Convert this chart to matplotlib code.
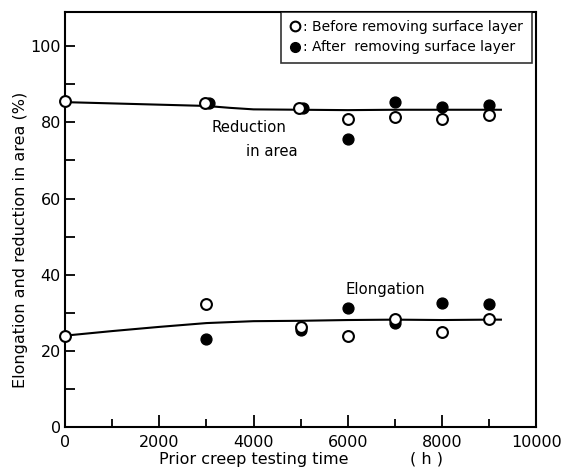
import matplotlib
matplotlib.use('Agg')
import matplotlib.pyplot as plt
from matplotlib.lines import Line2D
from matplotlib.ticker import MultipleLocator

# Prior creep testing time (h) of each specimen
times = [0, 3000, 5000, 6000, 7000, 8000, 9000]
times_after = [3000, 5000, 6000, 7000, 8000, 9000]

# Reduction in area (%)
ra_before = [85.5, 85.0, 83.8, 81.0, 81.5, 81.0, 82.0]
ra_after = [85.2, 83.8, 75.5, 85.3, 84.0, 84.5]

# Elongation (%)
el_before = [24.0, 32.3, 26.3, 24.0, 28.3, 25.0, 28.3]
el_after = [23.0, 25.5, 31.3, 27.3, 32.7, 32.3]

# Trend curves drawn through the data
ra_curve_t = [0, 3000, 3500, 4000, 5000, 6000, 7000, 8000, 9000, 9250]
ra_curve = [85.3, 84.3, 83.8, 83.4, 83.3, 83.2, 83.3, 83.3, 83.3, 83.3]
el_curve_t = [0, 1000, 2000, 3000, 4000, 5000, 6000, 7000, 8000, 9000, 9250]
el_curve = [24.0, 25.2, 26.3, 27.3, 27.8, 27.9, 28.1, 28.2, 28.1, 28.2, 28.2]

plt.rcParams['font.family'] = 'DejaVu Sans'
plt.rcParams['font.size'] = 11

fig = plt.figure(figsize=(5.63, 4.74), dpi=100)
ax = fig.add_axes([0.1155, 0.099, 0.837, 0.876])

ax.plot(ra_curve_t, ra_curve, color='black', lw=1.5, zorder=1)
ax.plot(el_curve_t, el_curve, color='black', lw=1.5, zorder=1)

ms = 7.8
# small offset at 3000 h / 5000 h where the two groups overlap
ra_after_t = [3050, 5050, 6000, 7000, 8000, 9000]
ax.plot(ra_after_t, ra_after, 'o', color='black', ms=ms, zorder=2)
ax.plot(times_after, el_after, 'o', color='black', ms=ms, zorder=2)
ra_before_t = [0, 2970, 4970, 6000, 7000, 8000, 9000]
ax.plot(ra_before_t, ra_before, 'o', mfc='white', mec='black', mew=1.5,
        ms=ms, zorder=3, clip_on=False)
ax.plot(times, el_before, 'o', mfc='white', mec='black', mew=1.5,
        ms=ms, zorder=3, clip_on=False)

ax.text(3100, 78.7, 'Reduction', ha='left', va='center', fontsize=10.7)
ax.text(3850, 72.3, 'in area', ha='left', va='center', fontsize=10.7)
ax.text(5950, 36.2, 'Elongation', ha='left', va='center', fontsize=10.7)

ax.set_xlim(0, 10000)
ax.set_ylim(0, 109)
ax.xaxis.set_major_locator(MultipleLocator(2000))
ax.xaxis.set_minor_locator(MultipleLocator(1000))
ax.yaxis.set_major_locator(MultipleLocator(20))
ax.yaxis.set_minor_locator(MultipleLocator(10))
ax.tick_params(which='both', direction='in', width=1.3, labelsize=11.5)
ax.tick_params(axis='x', which='major', length=9, pad=6)
ax.tick_params(axis='x', which='minor', length=6)
ax.tick_params(axis='y', which='both', length=7, pad=3)
for s in ax.spines.values():
    s.set_linewidth(1.5)

ax.set_xlabel('Prior creep testing time            ( h )', fontsize=11.5, labelpad=1)
ax.set_ylabel('Elongation and reduction in area (%)', fontsize=11.5)
ax.yaxis.set_label_coords(-0.078, 0.45)

handles = [
    Line2D([], [], ls='none', marker='o', mfc='white', mec='black', mew=1.5, ms=7),
    Line2D([], [], ls='none', marker='o', color='black', ms=7),
]
leg = ax.legend(handles, [': Before removing surface layer',
                          ': After  removing surface layer'],
                loc='upper right', bbox_to_anchor=(0.99, 1.0), borderaxespad=0,
                frameon=True, fancybox=False, edgecolor='black',
                handlelength=0.8, handletextpad=0.2, borderpad=0.6,
                labelspacing=0.45, fontsize=10)
leg.get_frame().set_linewidth(1.2)

fig.savefig('out.png', dpi=100)
